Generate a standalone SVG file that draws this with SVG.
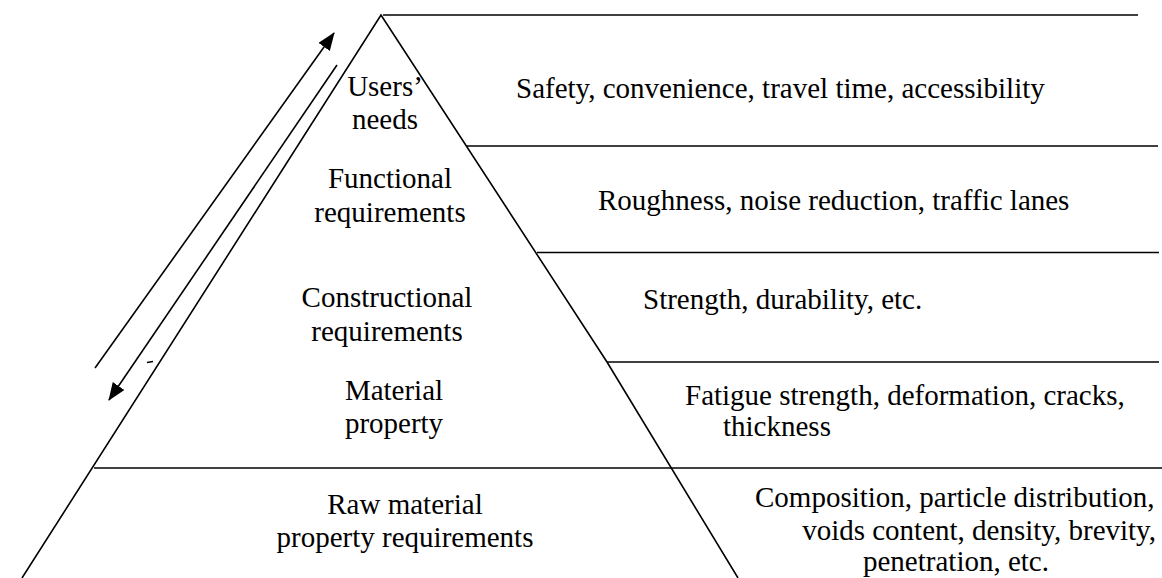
<svg xmlns="http://www.w3.org/2000/svg" width="1162" height="578" viewBox="0 0 1162 578">
  <style>
    .ln { stroke: #000; stroke-width: 1.6; fill: none; }
    .t { font-family: 'Liberation Serif', 'Times New Roman', Tinos, 'DejaVu Serif', serif; font-size: 29px; fill: #000; }
    .c { text-anchor: middle; }
    .e { text-anchor: end; }
  </style>
  <defs>
    <marker id="head" markerUnits="userSpaceOnUse" markerWidth="18" markerHeight="14" refX="17" refY="7" orient="auto">
      <path d="M0,0 L18,7 L0,14 Z" fill="#000"/>
    </marker>
  </defs>
  <rect width="1162" height="578" fill="#fff"/>

  <!-- pyramid outline and row dividers -->
  <g id="pyramid">
    <path class="ln" d="M22,578 L381,15 L607,362 L738,578"/>
    <line class="ln" x1="383" y1="15" x2="1138" y2="15"/>
    <line class="ln" x1="467" y1="146" x2="1158" y2="146"/>
    <line class="ln" x1="537" y1="252.5" x2="1159" y2="252.5"/>
    <line class="ln" x1="607" y1="362" x2="1159" y2="362"/>
    <line class="ln" x1="94" y1="468" x2="1162" y2="468"/>
    <line class="ln" x1="147" y1="362.5" x2="153" y2="361.5" stroke-width="1"/>
  </g>

  <!-- levels -->
  <g id="users-needs">
    <text class="t c" x="385" y="96">Users’</text>
    <text class="t c" x="385" y="129">needs</text>
    <text class="t" x="516" y="98">Safety, convenience, travel time, accessibility</text>
  </g>
  <g id="functional">
    <text class="t c" x="390" y="188">Functional</text>
    <text class="t c" x="390" y="222">requirements</text>
    <text class="t" x="598" y="210">Roughness, noise reduction, traffic lanes</text>
  </g>
  <g id="constructional">
    <text class="t c" x="387" y="307">Constructional</text>
    <text class="t c" x="387" y="341">requirements</text>
    <text class="t" x="643" y="309">Strength, durability, etc.</text>
  </g>
  <g id="material">
    <text class="t c" x="394" y="400">Material</text>
    <text class="t c" x="394" y="433">property</text>
    <text class="t" x="685" y="405">Fatigue strength, deformation, cracks,</text>
    <text class="t" x="723" y="436">thickness</text>
  </g>
  <g id="raw-material">
    <text class="t c" x="405" y="514">Raw material</text>
    <text class="t c" x="405" y="547">property requirements</text>
    <text class="t" x="755" y="507">Composition, particle distribution,</text>
    <text class="t e" x="1156" y="540">voids content, density, brevity,</text>
    <text class="t c" x="956" y="571">penetration, etc.</text>
  </g>

  <!-- connectors -->
  <g id="connectors">
    <line class="ln" x1="95" y1="368" x2="334" y2="33" marker-end="url(#head)"/>
    <line class="ln" x1="337" y1="65" x2="109" y2="400" marker-end="url(#head)"/>
  </g>
</svg>
